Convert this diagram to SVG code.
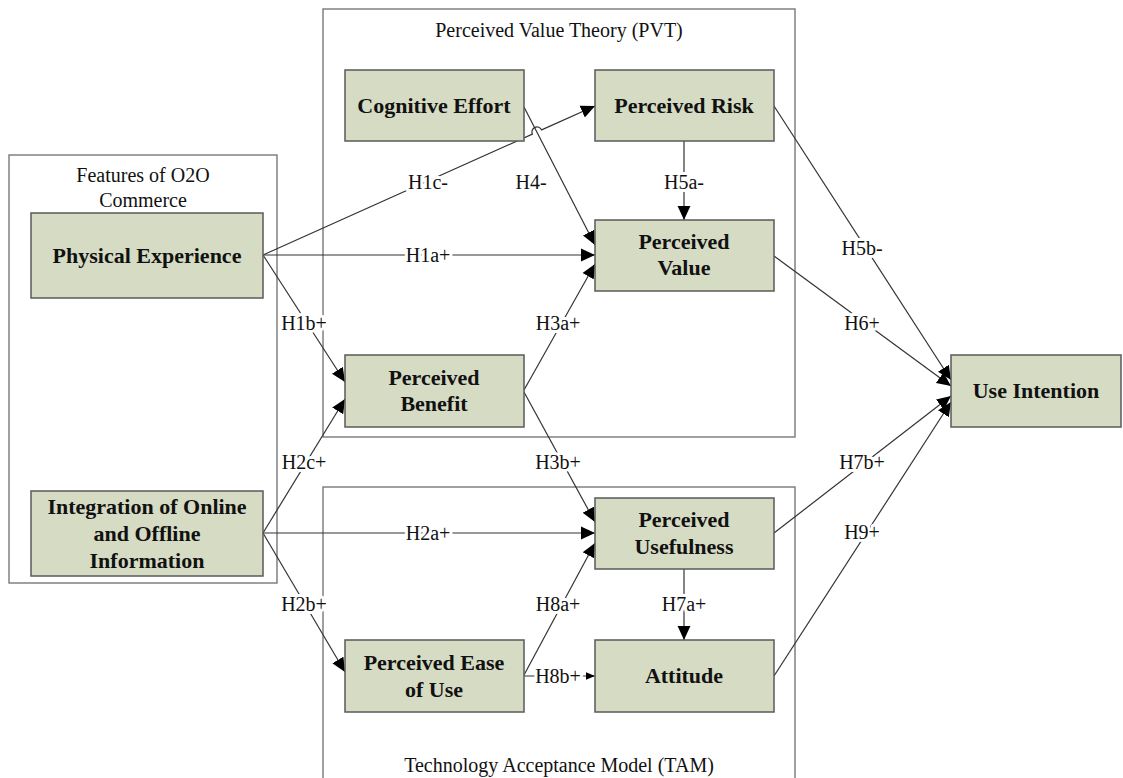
<svg xmlns="http://www.w3.org/2000/svg" width="1123" height="778" viewBox="0 0 1123 778">
<style>
.grp{fill:none;stroke:#6e6e6e;stroke-width:1.3}
.node rect{fill:#d6dbc3;stroke:#5a5a5a;stroke-width:1.5}
.node text{font-family:"Liberation Serif","Times New Roman",serif;font-weight:bold;font-size:22px;fill:#111;text-anchor:middle}
.gl{font-family:"Liberation Serif","Times New Roman",serif;font-size:20px;fill:#111;text-anchor:middle}
.edge{fill:none;stroke:#333;stroke-width:1.2}
.lbl{font-family:"Liberation Serif","Times New Roman",serif;font-size:20px;fill:#111;text-anchor:middle;stroke:#fff;stroke-width:6;paint-order:stroke;stroke-linejoin:round}
</style>
<defs>
<marker id="arr" markerUnits="userSpaceOnUse" markerWidth="14" markerHeight="14" viewBox="0 0 12 12" refX="12" refY="6" orient="auto">
<path d="M0,0.5 L12,6 L0,11.5 Z" fill="#000"/>
</marker>
<marker id="arrs" markerUnits="userSpaceOnUse" markerWidth="9" markerHeight="9" viewBox="0 0 12 12" refX="12" refY="6" orient="auto">
<path d="M0,1 L12,6 L0,11 Z" fill="#000"/>
</marker>
</defs>
<rect width="1123" height="778" fill="#fff"/>

<g id="groups">
<rect class="grp" x="9" y="155" width="268" height="428"/>
<rect class="grp" x="323" y="9" width="472" height="428"/>
<rect class="grp" x="323" y="487" width="472" height="320"/>
<text class="gl" x="143" y="182">Features of O2O</text>
<text class="gl" x="143" y="207">Commerce</text>
<text class="gl" x="559" y="37">Perceived Value Theory (PVT)</text>
<text class="gl" x="559" y="772">Technology Acceptance Model (TAM)</text>
</g>

<g id="connectors">
<path class="edge" d="M263,255 L532.4,134.1 A5,5 0 0 1 541.6,129.9 L595,106" marker-end="url(#arr)"/>
<path class="edge" d="M524,107 L595,245" marker-end="url(#arr)"/>
<path class="edge" d="M684,141 L684,220" marker-end="url(#arr)"/>
<path class="edge" d="M263,255 L595,255" marker-end="url(#arr)"/>
<path class="edge" d="M263,255 L345,382" marker-end="url(#arr)"/>
<path class="edge" d="M263,533 L345,399" marker-end="url(#arr)"/>
<path class="edge" d="M263,533 L595,533" marker-end="url(#arr)"/>
<path class="edge" d="M263,533 L345,672" marker-end="url(#arr)"/>
<path class="edge" d="M524,390 L595,264" marker-end="url(#arr)"/>
<path class="edge" d="M524,392 L595,522" marker-end="url(#arr)"/>
<path class="edge" d="M524,675 L595,543" marker-end="url(#arr)"/>
<path class="edge" d="M524,676 L595,676" marker-end="url(#arrs)"/>
<path class="edge" d="M684,569 L684,640" marker-end="url(#arr)"/>
<path class="edge" d="M774,106 L951,380" marker-end="url(#arr)"/>
<path class="edge" d="M774,256 L951,386" marker-end="url(#arr)"/>
<path class="edge" d="M774,533 L951,396" marker-end="url(#arr)"/>
<path class="edge" d="M774,676 L951,402" marker-end="url(#arr)"/>
<text class="lbl" x="428" y="189">H1c-</text>
<text class="lbl" x="531" y="189">H4-</text>
<text class="lbl" x="684" y="189">H5a-</text>
<text class="lbl" x="428" y="262">H1a+</text>
<text class="lbl" x="304" y="330">H1b+</text>
<text class="lbl" x="558" y="330">H3a+</text>
<text class="lbl" x="304" y="469">H2c+</text>
<text class="lbl" x="558" y="469">H3b+</text>
<text class="lbl" x="428" y="540">H2a+</text>
<text class="lbl" x="304" y="611">H2b+</text>
<text class="lbl" x="558" y="611">H8a+</text>
<text class="lbl" x="684" y="611">H7a+</text>
<text class="lbl" x="558" y="683">H8b+</text>
<text class="lbl" x="862" y="255">H5b-</text>
<text class="lbl" x="862" y="330">H6+</text>
<text class="lbl" x="862" y="469">H7b+</text>
<text class="lbl" x="862" y="539">H9+</text>
</g>

<g id="physical-experience" class="node">
<rect x="31" y="213" width="232" height="85"/>
<text x="147" y="263">Physical Experience</text>
</g>
<g id="integration" class="node">
<rect x="31" y="491" width="232" height="85"/>
<text x="147" y="514">Integration of Online</text>
<text x="147" y="541">and Offline</text>
<text x="147" y="568">Information</text>
</g>
<g id="cognitive-effort" class="node">
<rect x="345" y="70" width="179" height="71"/>
<text x="434" y="113">Cognitive Effort</text>
</g>
<g id="perceived-risk" class="node">
<rect x="595" y="70" width="179" height="71"/>
<text x="684" y="113">Perceived Risk</text>
</g>
<g id="perceived-value" class="node">
<rect x="595" y="220" width="179" height="71"/>
<text x="684" y="249">Perceived</text>
<text x="684" y="275">Value</text>
</g>
<g id="perceived-benefit" class="node">
<rect x="345" y="355" width="179" height="72"/>
<text x="434" y="385">Perceived</text>
<text x="434" y="411">Benefit</text>
</g>
<g id="perceived-usefulness" class="node">
<rect x="595" y="498" width="179" height="71"/>
<text x="684" y="527">Perceived</text>
<text x="684" y="554">Usefulness</text>
</g>
<g id="perceived-ease-of-use" class="node">
<rect x="345" y="640" width="179" height="72"/>
<text x="434" y="670">Perceived Ease</text>
<text x="434" y="697">of Use</text>
</g>
<g id="attitude" class="node">
<rect x="595" y="640" width="179" height="72"/>
<text x="684" y="683">Attitude</text>
</g>
<g id="use-intention" class="node">
<rect x="951" y="355" width="170" height="72"/>
<text x="1036" y="398">Use Intention</text>
</g>
</svg>
